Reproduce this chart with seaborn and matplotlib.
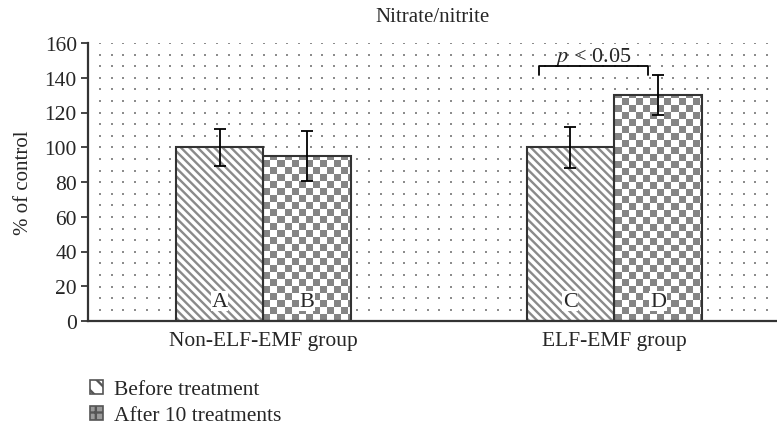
import numpy as np
import pandas as pd
import matplotlib
matplotlib.use("Agg")
import matplotlib.pyplot as plt
import seaborn as sns
from matplotlib.patches import Patch, Rectangle

# data
groups = ["Non-ELF-EMF group", "ELF-EMF group"]
treatments = ["Before treatment", "After 10 treatments"]
values = [100, 95, 100, 130]          # A, B, C, D
errors = [10.6, 14.3, 11.7, 11.7]
bar_labels = ["A", "B", "C", "D"]

df = pd.DataFrame({
    "group": [groups[0], groups[0], groups[1], groups[1]],
    "treatment": [treatments[0], treatments[1], treatments[0], treatments[1]],
    "value": values,
})

sns.set_style("white")
plt.rcParams["font.family"] = ["Liberation Serif", "DejaVu Serif"]
plt.rcParams["mathtext.fontset"] = "stix"
plt.rcParams["font.size"] = 15
plt.rcParams["hatch.linewidth"] = 1.7

fig = plt.figure(figsize=(7.77, 4.27), dpi=100)
ax = fig.add_axes([88 / 777, 1 - 322 / 427, 689 / 777, 278 / 427])

ax.set_xlim(-0.5, 1.464)
ax.set_ylim(0, 160)

# dotted background
xs = np.arange(12 / 689, 1.0, 11.7 / 689)
ys = np.arange(1.0, 0.0, -11.6 / 278)
gx, gy = np.meshgrid(xs, ys)
ax.scatter(gx.ravel(), gy.ravel(), s=0.6, marker="s", color="#8c8c8c",
           linewidths=0, transform=ax.transAxes, zorder=0)

sns.barplot(data=df, x="group", y="value", hue="treatment", order=groups,
            hue_order=treatments, width=0.5, palette=["white", "white"],
            edgecolor="#8a8a8a", linewidth=0, legend=False, ax=ax, zorder=2)

bars = sorted(ax.patches, key=lambda p: p.get_x())
checker_gray = "#858585"
for i, p in enumerate(bars):
    x0, w, h = p.get_x(), p.get_width(), p.get_height()
    if i % 2 == 0:
        p.set_hatch("\\\\\\\\")
    else:
        # checkerboard fill clipped to the bar
        ncols, nrows = 98, 40
        board = (np.add.outer(np.arange(nrows), np.arange(ncols)) % 2)
        im = ax.imshow(board, cmap=matplotlib.colors.ListedColormap(["white", checker_gray]),
                       extent=(-0.5, 1.464, 0, 160), origin="lower", aspect="auto",
                       interpolation="nearest", zorder=2.1)
        im.set_clip_path(p)
    ax.add_patch(Rectangle((x0, 0), w, h, fill=False, edgecolor="#333333",
                           linewidth=1.5, zorder=3))
    cx = x0 + w / 2
    ax.errorbar(cx, values[i], yerr=errors[i], color="black", capsize=4,
                elinewidth=1.3, capthick=1.3, zorder=4)
    ax.text(cx, 11.5, bar_labels[i], ha="center", va="center", fontsize=16, zorder=5,
            bbox=dict(facecolor="white", edgecolor="none", pad=0.5))

# significance bracket between C and D
c_bar, d_bar = bars[2], bars[3]
xl = c_bar.get_x() + 0.035
xr = d_bar.get_x() + d_bar.get_width() / 2 - 0.03
ax.plot([xl, xl, xr, xr], [141.5, 146.5, 146.5, 141.5], color="black", lw=1.3, zorder=4)
ax.text((xl + xr) / 2, 149.5, r"$p$ < 0.05", ha="center", va="baseline", fontsize=16)

ax.set_ylim(0, 160)
ax.set_xlim(-0.5, 1.464)
ax.set_yticks(np.arange(0, 161, 20))
ax.set_xlabel("")
ax.set_ylabel("% of control", fontsize=15, labelpad=8)
ax.set_title("Nitrate/nitrite", fontsize=15, pad=16)
ax.tick_params(axis="y", direction="out", length=5, width=1.2, left=True, labelsize=15.5, pad=3)
ax.tick_params(axis="x", length=0, labelsize=15.5, pad=7)
for s in ["top", "right"]:
    ax.spines[s].set_visible(False)
for s in ["left", "bottom"]:
    ax.spines[s].set_color("#333333")
    ax.spines[s].set_linewidth(1.6)

handles = [
    Patch(facecolor="white", edgecolor="#555555", hatch="\\\\", linewidth=1.2),
    Patch(facecolor="#9a9a9a", edgecolor="#555555", hatch="++", linewidth=1.2),
]
fig.legend(handles, treatments, loc="upper left", bbox_to_anchor=(79 / 777, 1 - 370 / 427),
           frameon=False, fontsize=15.5, handlelength=0.62, handleheight=0.62,
           handletextpad=0.5, labelspacing=0.3, borderpad=0)

fig.savefig("out.png", dpi=100)
